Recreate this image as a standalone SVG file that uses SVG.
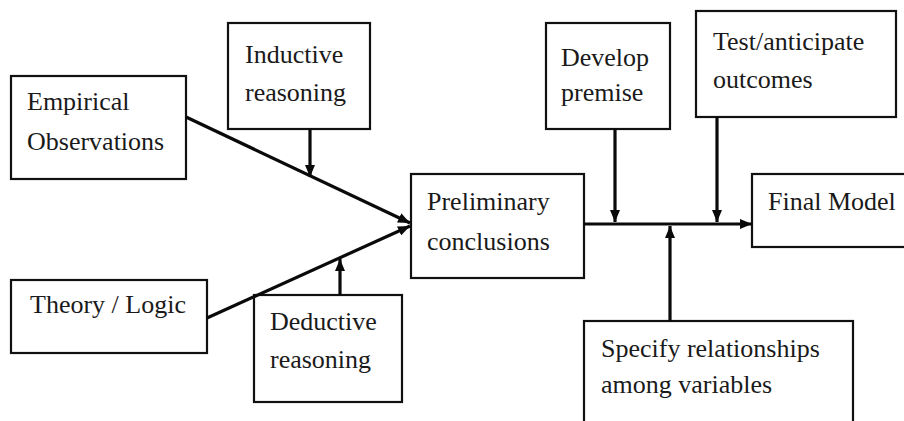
<svg xmlns="http://www.w3.org/2000/svg" width="904" height="421" viewBox="0 0 904 421">
  <style>
    .box { fill: #ffffff; stroke: #111111; stroke-width: 2.2; }
    .lbl { font-family: "Liberation Serif", "Times New Roman", serif; font-size: 26px; fill: #1a1a1a; }
    .edge { stroke: #0a0a0a; stroke-width: 3.2; fill: none; }
  </style>
  <defs>
    <marker id="head" viewBox="0 0 12 10" refX="12" refY="5" markerWidth="12" markerHeight="10" markerUnits="userSpaceOnUse" orient="auto">
      <path d="M0,0 L12,5 L0,10 Z" fill="#0a0a0a"/>
    </marker>
  </defs>
  <rect width="904" height="421" fill="#ffffff"/>

  <g id="empirical">
    <rect class="box" x="11" y="76" width="175" height="103"/>
    <text class="lbl" x="27" y="110">Empirical</text>
    <text class="lbl" x="27" y="150">Observations</text>
  </g>
  <g id="inductive">
    <rect class="box" x="228" y="23" width="142" height="106"/>
    <text class="lbl" x="245" y="63">Inductive</text>
    <text class="lbl" x="245" y="101">reasoning</text>
  </g>
  <g id="theory">
    <rect class="box" x="11" y="280" width="196" height="73"/>
    <text class="lbl" x="30" y="313">Theory / Logic</text>
  </g>
  <g id="deductive">
    <rect class="box" x="254" y="295" width="148" height="107"/>
    <text class="lbl" x="270" y="330">Deductive</text>
    <text class="lbl" x="270" y="368">reasoning</text>
  </g>
  <g id="preliminary">
    <rect class="box" x="411" y="174" width="173" height="104"/>
    <text class="lbl" x="427" y="210">Preliminary</text>
    <text class="lbl" x="427" y="250">conclusions</text>
  </g>
  <g id="develop">
    <rect class="box" x="546" y="23" width="124" height="106"/>
    <text class="lbl" x="561" y="66">Develop</text>
    <text class="lbl" x="561" y="101">premise</text>
  </g>
  <g id="test">
    <rect class="box" x="696" y="11" width="200" height="106"/>
    <text class="lbl" x="713" y="50">Test/anticipate</text>
    <text class="lbl" x="713" y="88">outcomes</text>
  </g>
  <g id="final">
    <rect class="box" x="752" y="174" width="160" height="73"/>
    <text class="lbl" x="768" y="210">Final Model</text>
  </g>
  <g id="specify">
    <rect class="box" x="584" y="321" width="269" height="120"/>
    <text class="lbl" x="601" y="357">Specify relationships</text>
    <text class="lbl" x="601" y="393">among variables</text>
  </g>

  <g id="connectors">
    <line class="edge" x1="186" y1="117" x2="410" y2="223" marker-end="url(#head)"/>
    <line class="edge" x1="207" y1="318" x2="410" y2="226" marker-end="url(#head)"/>
    <line class="edge" x1="310" y1="129" x2="310" y2="177" marker-end="url(#head)"/>
    <line class="edge" x1="340" y1="295" x2="340" y2="259" marker-end="url(#head)"/>
    <line class="edge" x1="584" y1="224" x2="752" y2="224" marker-end="url(#head)"/>
    <line class="edge" x1="615" y1="129" x2="615" y2="222" marker-end="url(#head)"/>
    <line class="edge" x1="717" y1="117" x2="717" y2="222" marker-end="url(#head)"/>
    <line class="edge" x1="670" y1="321" x2="670" y2="226" marker-end="url(#head)"/>
  </g>
</svg>
